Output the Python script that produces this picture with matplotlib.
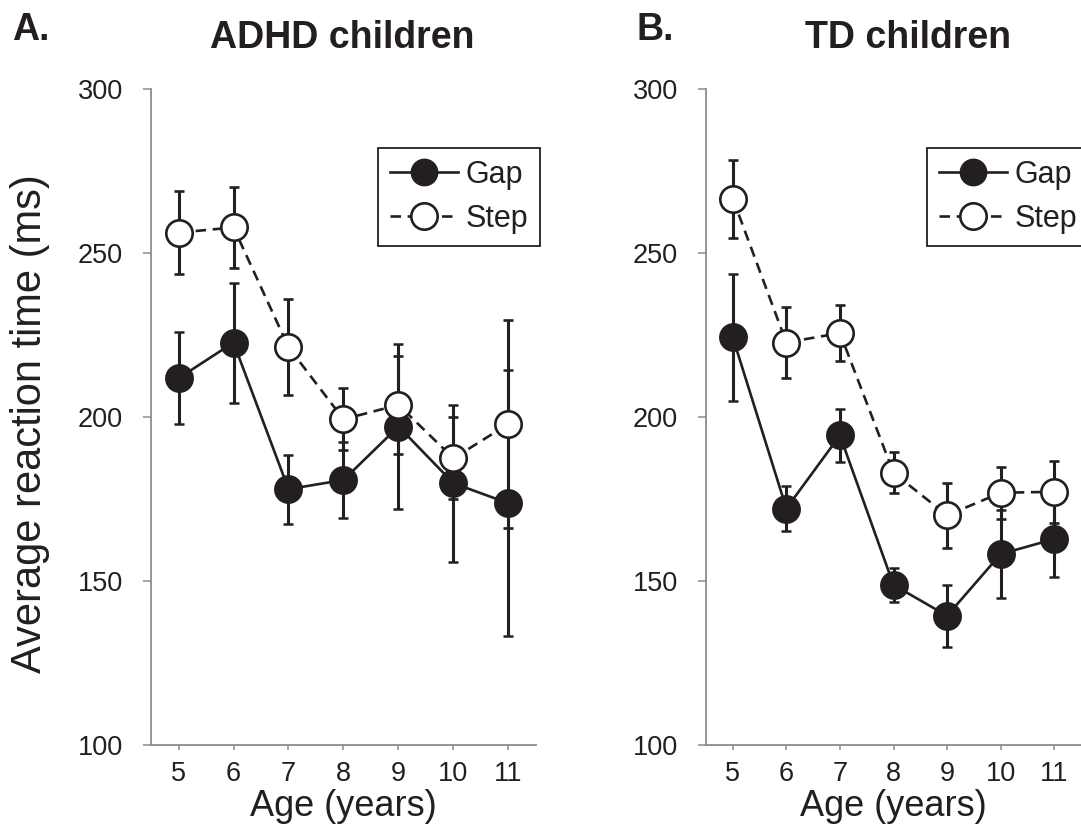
import matplotlib
matplotlib.use('Agg')
import matplotlib.pyplot as plt
from matplotlib.lines import Line2D

# ages (years)
ages = [5, 6, 7, 8, 9, 10, 11]

# ADHD children: mean reaction time and error (ms)
adhd_gap = [211.7, 222.6, 177.9, 180.7, 197.0, 179.7, 173.6]
adhd_gap_err = [14.0, 18.3, 10.5, 11.7, 25.3, 24.0, 40.5]
adhd_step = [256.1, 257.7, 221.2, 199.2, 203.6, 187.3, 197.8]
adhd_step_err = [12.6, 12.4, 14.6, 9.5, 15.0, 12.5, 31.7]

# TD children
td_gap = [224.2, 172.0, 194.3, 148.7, 139.3, 158.1, 162.7]
td_gap_err = [19.3, 7.0, 8.0, 5.2, 9.4, 13.5, 11.7]
td_step = [266.5, 222.6, 225.5, 182.9, 169.9, 176.8, 177.1]
td_step_err = [11.9, 10.7, 8.6, 6.3, 10.0, 8.0, 9.4]

ink = '#231f20'
spine_col = '#8c8c8c'
base_font = ['Liberation Sans', 'DejaVu Sans']

plt.rcParams['font.family'] = base_font

fig = plt.figure(figsize=(10.81, 8.34), dpi=100)
ax_a = fig.add_axes([0.1397, 0.1071, 0.3561, 0.7866])
ax_b = fig.add_axes([0.6531, 0.1071, 0.3469, 0.7866])

dash = (0, (4, 2.5))


def draw_panel(ax, gap, gap_err, step, step_err):
    ax.errorbar(ages, gap, yerr=gap_err, fmt='-o', color=ink, lw=1.9,
                ms=19, mfc=ink, mec=ink, mew=1.8,
                elinewidth=2.2, capsize=3.5, capthick=2.2, zorder=3)
    ax.errorbar(ages, step, yerr=step_err, fmt='o', color=ink, ls=dash,
                lw=1.9, ms=19, mfc='white', mec=ink, mew=1.9,
                elinewidth=2.2, capsize=3.5, capthick=2.2, zorder=4)
    ax.set_xlim(4.5, 11.5)
    ax.set_ylim(100, 300)
    ax.set_xticks(ages)
    ax.set_yticks([100, 150, 200, 250, 300])
    for s in ['top', 'right']:
        ax.spines[s].set_visible(False)
    for s in ['left', 'bottom']:
        ax.spines[s].set_color(spine_col)
        ax.spines[s].set_linewidth(1.3)
    ax.tick_params(axis='y', direction='out', length=6, width=1.1,
                   color=spine_col, labelsize=19.5, labelcolor=ink, pad=14)
    ax.tick_params(axis='x', direction='out', length=3.5, width=1.1,
                   color=spine_col, labelsize=19.5, labelcolor=ink, pad=8)
    ax.set_xlabel('Age (years)', fontsize=26, color=ink, labelpad=2)

    handles = [
        Line2D([], [], color=ink, lw=1.9, marker='o', ms=19, mfc=ink, mec=ink),
        Line2D([], [], color=ink, lw=1.9, ls=dash, marker='o', ms=19,
               mfc='white', mec=ink, mew=1.9),
    ]
    leg = ax.legend(handles, ['Gap', 'Step'], loc='upper left',
                    bbox_to_anchor=(0.59, 0.91), borderaxespad=0,
                    fontsize=22, frameon=True, fancybox=False, framealpha=1,
                    edgecolor=ink, handlelength=2.2, handletextpad=0.25,
                    labelspacing=0.45, borderpad=0.4, numpoints=1)
    leg.get_frame().set_linewidth(1.3)
    for t in leg.get_texts():
        t.set_color(ink)


draw_panel(ax_a, adhd_gap, adhd_gap_err, adhd_step, adhd_step_err)
draw_panel(ax_b, td_gap, td_gap_err, td_step, td_step_err)

ax_a.set_ylabel('Average reaction time (ms)', fontsize=30, color=ink)
ax_a.yaxis.set_label_coords(-0.262, 0.49)

# panel titles and letters
fig.text(0.317, 0.955, 'ADHD children', ha='center', va='center',
         fontsize=27, fontweight='bold', color=ink)
fig.text(0.840, 0.955, 'TD children', ha='center', va='center',
         fontsize=27, fontweight='bold', color=ink)
fig.text(0.011, 0.964, 'A.', ha='left', va='center',
         fontsize=27, fontweight='bold', color=ink)
fig.text(0.589, 0.964, 'B.', ha='left', va='center',
         fontsize=27, fontweight='bold', color=ink)

fig.savefig('out.png', dpi=100)
